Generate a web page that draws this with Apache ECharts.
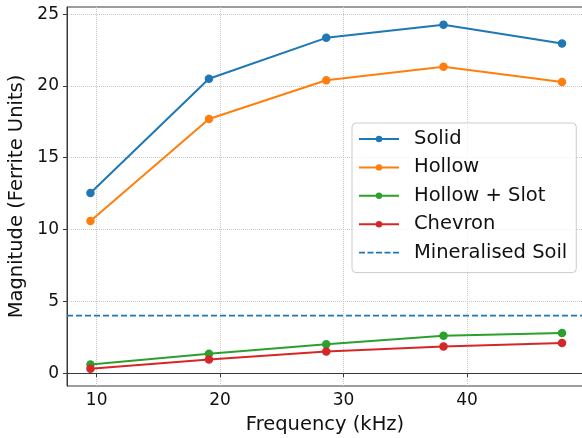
<!DOCTYPE html>
<html>
<head>
<meta charset="utf-8">
<title>Magnitude vs Frequency</title>
<script src="https://cdn.jsdelivr.net/npm/echarts@6/dist/echarts.min.js"></script>
<style>
  html, body { margin: 0; padding: 0; background: #fff; }
  #chart { width: 582px; height: 438px; }
</style>
</head>
<body>
<div id="chart"></div>
<script>
// data
var freq = [9.5, 19.1, 28.6, 38.1, 47.7];
var solid = [12.55, 20.5, 23.35, 24.27, 22.95];
var hollow = [10.6, 17.7, 20.4, 21.33, 20.27];
var hollowSlot = [0.6, 1.35, 2.0, 2.6, 2.8];
var chevron = [0.3, 0.95, 1.5, 1.85, 2.1];
var soilLevel = 4;

var xTicks = [10, 20, 30, 40];
var yTicks = [0, 5, 10, 15, 20, 25];

var xMin = 7.6, xMax = 49.4;
var yMin = -0.9, yMax = 25.5;

var FONT = "DejaVu Sans";
var SPINE = "#3a3a3a";
var TEXT = "#111111";

// dashed legend glyph (40x8 box, the two specks keep the full box height)
var DASH_ICON = "path://M0,0h0.01v0.01h-0.01z M39.99,7.99h0.01v0.01h-0.01z " +
  "M0,3.1h6v1.8h-6z M8.5,3.1h6v1.8h-6z M17,3.1h6v1.8h-6z M25.5,3.1h6v1.8h-6z M34,3.1h6v1.8h-6z";

function pairs(ys) {
  return freq.map(function (x, i) { return [x, ys[i]]; });
}

function lineSeries(name, ys, color) {
  return {
    name: name,
    type: "line",
    data: pairs(ys),
    symbol: "circle",
    symbolSize: 8.5,
    lineStyle: { width: 2, color: color },
    itemStyle: { color: color },
    z: 3
  };
}

var chart = echarts.init(document.getElementById("chart"), null, { renderer: "canvas" });

var option = {
  animation: false,
  textStyle: { fontFamily: FONT },
  grid: {
    left: 67,
    top: 7,
    width: 516,
    height: 379,
    show: true,
    borderColor: SPINE,
    borderWidth: 1,
    containLabel: false,
    outerBoundsMode: "none"
  },
  legend: {
    orient: "vertical",
    left: 352,
    top: 123,
    padding: [6, 9, 10, 6],
    itemWidth: 40,
    itemHeight: 8,
    itemGap: 8.4,
    backgroundColor: "rgba(255,255,255,0.8)",
    borderColor: "#cccccc",
    borderWidth: 1,
    borderRadius: 4,
    textStyle: {
      fontFamily: FONT,
      fontSize: 19.5,
      color: TEXT,
      lineHeight: 20,
      padding: [0, 0, 0, 10]
    },
    data: [
      "Solid",
      "Hollow",
      "Hollow + Slot",
      "Chevron",
      { name: "Mineralised Soil", icon: DASH_ICON }
    ]
  },
  xAxis: {
    type: "value",
    min: xMin,
    max: xMax,
    name: "Frequency (kHz)",
    nameLocation: "middle",
    nameGap: 29,
    nameTextStyle: { fontFamily: FONT, fontSize: 19.5, color: TEXT },
    axisLine: { show: true, lineStyle: { color: SPINE, width: 1 } },
    axisTick: { show: true, length: 4, customValues: xTicks, lineStyle: { color: SPINE } },
    axisLabel: {
      customValues: xTicks,
      margin: 6,
      fontFamily: FONT,
      fontSize: 17,
      color: TEXT
    },
    splitLine: { show: true, lineStyle: { type: "dotted", color: "#c8c8c8", width: 1 } }
  },
  yAxis: {
    type: "value",
    min: yMin,
    max: yMax,
    name: "Magnitude (Ferrite Units)",
    nameLocation: "middle",
    nameGap: 32,
    nameTextStyle: { fontFamily: FONT, fontSize: 19.5, color: TEXT },
    axisLine: { show: true, lineStyle: { color: SPINE, width: 1 } },
    axisTick: { show: true, length: 4, customValues: yTicks, lineStyle: { color: SPINE } },
    axisLabel: {
      customValues: yTicks,
      margin: 8,
      fontFamily: FONT,
      fontSize: 17,
      color: TEXT
    },
    splitLine: { show: true, lineStyle: { type: "dotted", color: "#c8c8c8", width: 1 } }
  },
  series: [
    lineSeries("Solid", solid, "#1f77b4"),
    lineSeries("Hollow", hollow, "#ff7f0e"),
    lineSeries("Hollow + Slot", hollowSlot, "#2ca02c"),
    lineSeries("Chevron", chevron, "#d62728"),
    // horizontal reference across the whole plot
    {
      name: "Mineralised Soil",
      type: "line",
      data: [[xMin, soilLevel], [xMax, soilLevel]],
      symbol: "none",
      showSymbol: false,
      lineStyle: { width: 1.8, color: "#1f77b4", type: [6, 3] },
      itemStyle: { color: "#1f77b4" },
      z: 2
    }
  ]
};

chart.setOption(option);
</script>
</body>
</html>
